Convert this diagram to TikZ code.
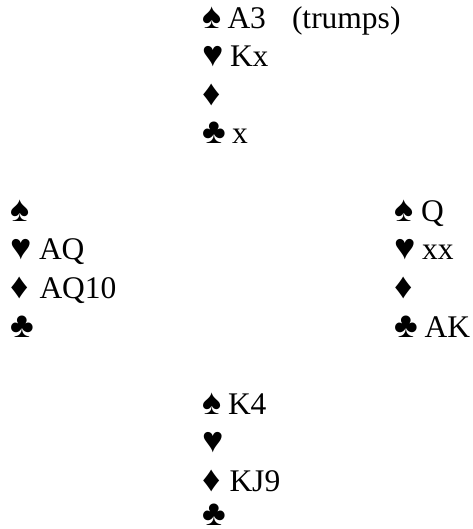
\documentclass[tikz,border=0pt]{standalone}
\usepackage{fontspec}
\setmainfont{Liberation Serif}
\tikzset{
  card/.style={anchor=base west, inner sep=0pt, outer sep=0pt, font=\fontsize{31.5}{38}\selectfont, text=black},
  suit/.style={card, font=\fontsize{36}{40}\selectfont},
}
\begin{document}
\begin{tikzpicture}[x=1pt,y=-1pt]
\useasboundingbox[fill=white] (0,0) rectangle (472,529);
% North
\node[suit] (n1s) at (202,28.3) {♠};
\node[card] (n1) at (227.5,28.3) {A3};
\node[card] (nt) at (292,28.3) {(trumps)};
\node[suit] (n2s) at (202,66.9) {♥};
\node[card] (n2) at (230,66.9) {Kx};
\node[suit] (n3s) at (202,105.5) {♦};
\node[suit] (n4s) at (202,144) {♣};
\node[card] (n4) at (232,144) {x};
% West
\node[suit] (w1s) at (10,221.2) {♠};
\node[suit] (w2s) at (10,259.8) {♥};
\node[card] (w2) at (39,259.8) {AQ};
\node[suit] (w3s) at (10,298.4) {♦};
\node[card] (w3) at (39.5,298.4) {AQ10};
\node[suit] (w4s) at (10,337) {♣};
% East
\node[suit] (e1s) at (394,221.2) {♠};
\node[card] (e1) at (421,221.2) {Q};
\node[suit] (e2s) at (394,259.8) {♥};
\node[card] (e2) at (422,259.8) {xx};
\node[suit] (e3s) at (394,298.4) {♦};
\node[suit] (e4s) at (394,337) {♣};
\node[card] (e4) at (424.5,337) {AK};
% South
\node[suit] (s1s) at (202,414.2) {♠};
\node[card] (s1) at (228,414.2) {K4};
\node[suit] (s2s) at (202,452.8) {♥};
\node[suit] (s3s) at (202,491.4) {♦};
\node[card] (s3) at (229.5,491.4) {KJ9};
\node[suit] (s4s) at (202,525) {♣};
\end{tikzpicture}
\end{document}
